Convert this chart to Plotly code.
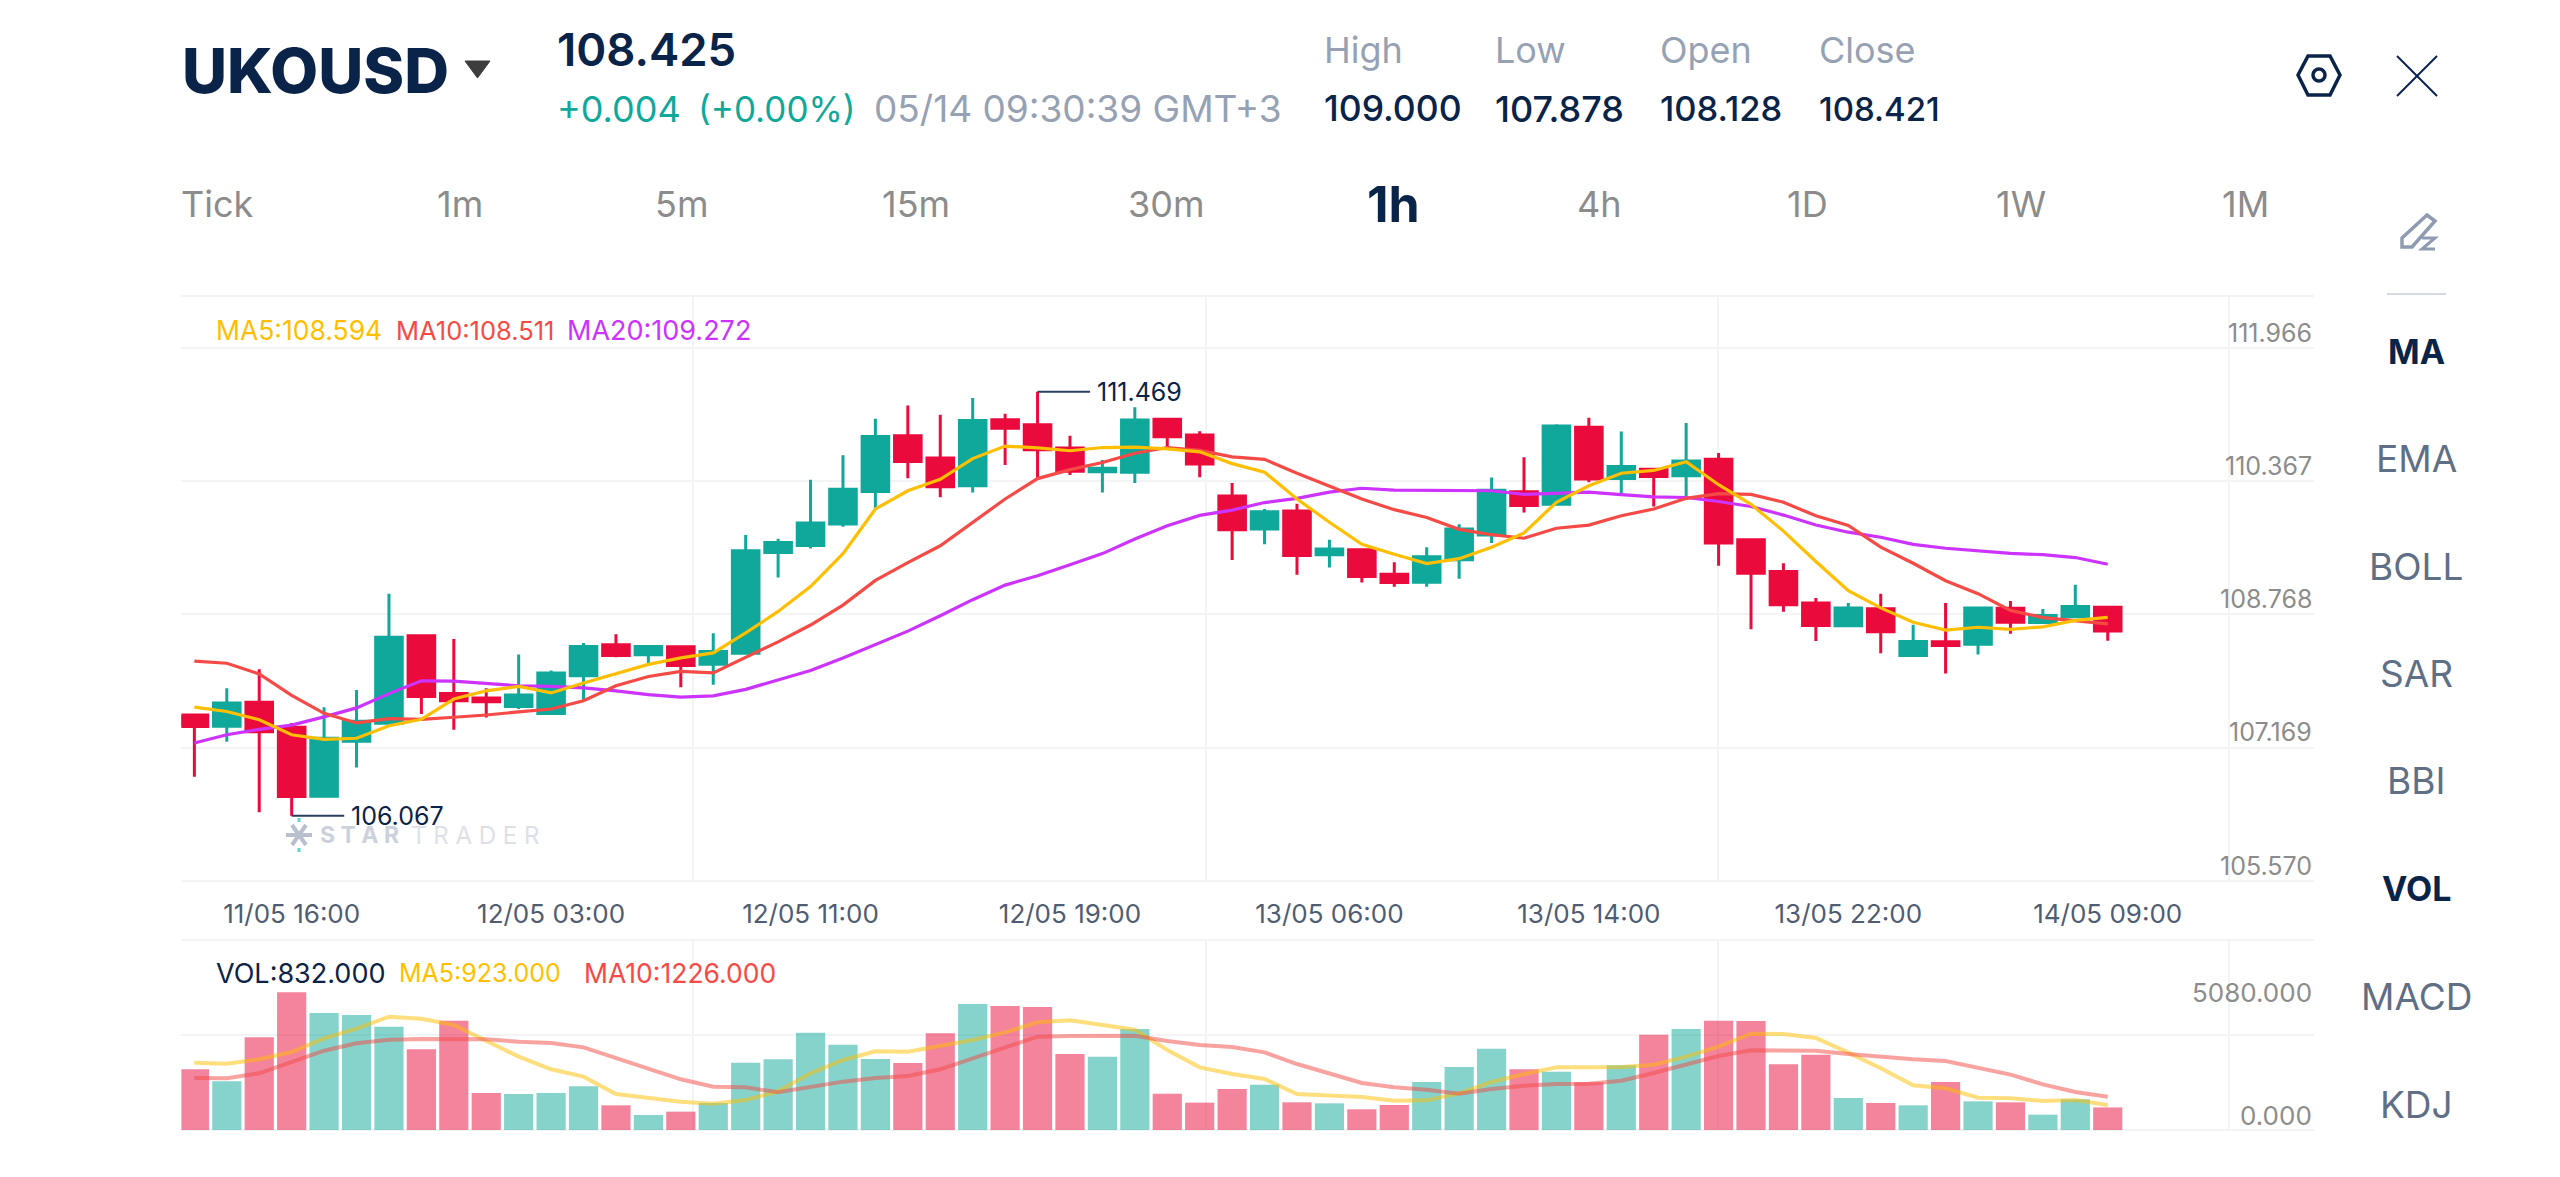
import plotly.graph_objects as go

# --- Hourly UKOUSD candles -------------------------------------------------
opens = [107.350,107.208,107.513,107.195,106.316,107.017,107.245,108.360,107.623,107.568,
         107.459,107.368,107.850,108.246,108.119,108.219,107.996,108.137,109.420,109.512,
         109.785,110.199,110.909,110.627,110.272,111.114,111.050,110.754,110.449,110.445,
         111.118,110.918,110.140,109.721,109.949,109.393,109.457,109.143,109.043,109.330,
         109.644,110.194,110.035,111.018,110.363,110.481,110.399,110.609,109.584,109.179,
         108.779,108.487,108.706,108.110,108.283,108.251,108.710,108.528,108.601,108.724]
highs = [107.350,107.691,107.932,107.249,107.450,107.668,108.897,108.360,108.319,107.691,
         108.123,107.918,108.269,108.378,108.237,108.223,108.392,109.644,109.598,110.349,
         110.659,111.127,111.296,111.178,111.391,111.191,111.469,110.909,110.599,111.273,
         111.118,110.968,110.308,109.976,110.044,109.584,109.466,109.298,109.489,109.780,
         110.376,110.636,111.055,111.137,110.964,110.495,111.073,110.690,109.589,109.284,
         108.842,108.779,108.897,108.501,108.779,108.724,108.802,108.701,109.011,108.724]
lows = [106.562,107.008,106.111,106.067,106.316,106.680,107.245,107.363,107.163,107.318,
        107.427,107.363,107.545,108.087,107.996,107.705,107.736,108.128,109.102,109.471,
        109.748,109.980,110.367,110.126,110.185,110.536,110.363,110.408,110.185,110.308,
        110.741,110.381,109.325,109.525,109.138,109.229,109.038,108.984,108.984,109.088,
        109.543,109.930,110.035,110.317,110.172,110.008,110.126,109.252,108.442,108.665,
        108.292,108.469,108.137,108.091,107.878,108.123,108.387,108.528,108.583,108.296]
closes = [107.204,107.504,107.136,106.312,107.054,107.272,108.342,107.586,107.532,107.518,
          107.604,107.887,108.223,108.110,108.223,107.982,108.160,109.443,109.548,109.798,
          110.226,110.900,110.581,110.258,111.105,111.005,110.731,110.458,110.495,111.109,
          110.895,110.549,109.712,109.939,109.384,109.466,109.116,109.038,109.366,109.721,
          110.213,110.021,111.032,110.358,110.517,110.390,110.586,109.543,109.157,108.756,
          108.492,108.715,108.410,108.287,108.237,108.715,108.533,108.619,108.733,108.421]

ma5 = [107.450,107.395,107.290,107.099,107.040,107.054,107.213,107.295,107.554,107.659,
       107.714,107.632,107.759,107.873,107.996,108.078,108.142,108.396,108.670,108.988,
       109.407,109.976,110.208,110.354,110.618,110.777,110.754,110.718,110.759,110.763,
       110.741,110.704,110.554,110.445,110.103,109.807,109.525,109.398,109.279,109.343,
       109.489,109.671,110.062,110.272,110.431,110.467,110.577,110.285,110.035,109.694,
       109.307,108.934,108.715,108.533,108.433,108.469,108.442,108.474,108.556,108.594]
ma10 = [108.037,108.010,107.873,107.600,107.372,107.249,107.304,107.295,107.322,107.350,
        107.390,107.427,107.532,107.723,107.841,107.905,107.887,108.087,108.283,108.497,
        108.751,109.066,109.293,109.507,109.807,110.103,110.363,110.477,110.568,110.686,
        110.759,110.722,110.640,110.609,110.431,110.267,110.103,109.967,109.867,109.716,
        109.648,109.603,109.730,109.771,109.889,109.976,110.112,110.172,110.162,110.062,
        109.889,109.766,109.489,109.284,109.061,108.897,108.683,108.592,108.556,108.511]
ma20 = [106.994,107.099,107.167,107.222,107.327,107.441,107.623,107.786,107.782,107.750,
        107.723,107.714,107.695,107.659,107.609,107.577,107.595,107.677,107.796,107.918,
        108.078,108.251,108.419,108.615,108.820,109.006,109.125,109.266,109.407,109.594,
        109.762,109.894,109.962,110.058,110.112,110.190,110.240,110.217,110.213,110.208,
        110.208,110.162,110.181,110.190,110.158,110.131,110.122,110.071,110.008,109.898,
        109.771,109.680,109.616,109.525,109.475,109.439,109.411,109.393,109.357,109.272]

volumes = [2239,1796,3419,5080,4317,4244,3813,2977,4034,1365,
           1328,1365,1611,910,554,677,996,2485,2608,3592,
           3149,2620,2472,3567,4649,4576,4539,2804,2706,3727,
           1341,1009,1513,1673,1021,984,763,923,1771,2325,
           3001,2239,2153,1759,2386,3518,3727,4034,4022,2423,
           2780,1181,996,910,1771,1058,1021,566,1132,832]
vol_ma5 = [2485,2448,2608,2878,3383,3739,4182,4108,3875,3272,
           2706,2239,1968,1328,1181,1046,972,1107,1427,2091,
           2583,2903,2891,3100,3321,3604,3973,4047,3875,3702,
           2952,2312,2066,1882,1328,1267,1218,1082,1095,1353,
           1771,2066,2312,2312,2325,2411,2706,3075,3555,3542,
           3395,2854,2276,1648,1538,1193,1169,1070,1107,923]
vol_ma10 = [1919,1907,2091,2522,2927,3198,3333,3358,3370,3346,
            3260,3210,3050,2645,2239,1870,1599,1574,1390,1599,
            1784,1919,1993,2239,2645,3075,3444,3469,3481,3481,
            3284,3137,3063,2866,2435,2066,1734,1574,1488,1341,
            1513,1636,1697,1710,1820,2103,2435,2731,2940,2940,
            2927,2804,2694,2608,2546,2300,2042,1685,1402,1226]

bar_index = list(range(len(closes)))
time_ticks = [3, 11, 19, 27, 35, 43, 51, 59]
time_labels = ["11/05 16:00", "12/05 03:00", "12/05 11:00", "12/05 19:00",
               "13/05 06:00", "13/05 14:00", "13/05 22:00", "14/05 09:00"]
price_labels = ["111.966", "110.367", "108.768", "107.169", "105.570"]
price_grid = [112.027, 110.327, 108.633, 106.931, 105.235]
vol_labels = [(5080, "5080.000", 0), (0, "0.000", 15)]
timeframes = ["Tick", "1m", "5m", "15m", "30m", "1h", "4h", "1D", "1W", "1M"]
timeframe_x = [217, 460, 681, 916, 1166, 1393, 1599, 1807, 2021, 2245]
indicators = ["MA", "EMA", "BOLL", "SAR", "BBI", "VOL", "MACD", "KDJ"]
indicator_y = [351, 459, 566, 673, 780, 888, 996, 1104]
active_indicators = {"MA", "VOL"}

W, H = 2560, 1177
FONT = "Inter"
NAVY = "#0a2348"
UP, DOWN = "#0fa89b", "#ea0a3c"
YELLOW, RED, PURPLE = "#ffbf00", "#f54a45", "#cc33ff"
GRID = "#f3f4f5"
MUTED = "#96a2b4"
GREY = "#8c8c8c"
SLATE = "#5f6f85"
PANE_LEFT, PANE_RIGHT = 181.4, 2314


def px(x):
    return x / W


def py(y):
    return 1 - y / H


annotations = []


def label(text, x, y, size, color, anchor="left", weight=400):
    annotations.append(dict(
        text=text, x=px(x), y=py(y), xref="paper", yref="paper",
        xanchor=anchor, yanchor="middle", showarrow=False,
        xshift=-3 if anchor == "left" else 0,
        font=dict(family=FONT, size=size, color=color, weight=weight)))


shapes = []


def ui_line(x0, y0, x1, y1, color, width=2, layer="above"):
    shapes.append(dict(type="line", xref="paper", yref="paper", x0=px(x0), y0=py(y0),
                       x1=px(x1), y1=py(y1), layer=layer, line=dict(color=color, width=width)))


def ui_path(points, color, width=3, fill=None, close=True):
    d = "M " + " L ".join(f"{px(a):.5f},{py(b):.5f}" for a, b in points) + (" Z" if close else "")
    shapes.append(dict(type="path", xref="paper", yref="paper", path=d,
                       line=dict(color=color, width=width),
                       fillcolor=fill if fill else "rgba(0,0,0,0)"))


fig = go.Figure()

fig.add_trace(go.Candlestick(
    x=bar_index, open=opens, high=highs, low=lows, close=closes, whiskerwidth=0,
    increasing=dict(line=dict(color=UP, width=3), fillcolor=UP),
    decreasing=dict(line=dict(color=DOWN, width=3), fillcolor=DOWN),
    hoverinfo="skip", showlegend=False))
# MA5 is drawn last so it sits on top of the other averages
for series, color in ((ma20, PURPLE), (ma10, RED), (ma5, YELLOW)):
    fig.add_trace(go.Scatter(x=bar_index, y=series, mode="lines", hoverinfo="skip",
                             line=dict(color=color, width=3.2), showlegend=False))

fig.add_trace(go.Bar(
    x=bar_index, y=volumes, xaxis="x2", yaxis="y2", width=0.9, opacity=0.5,
    marker=dict(color=[UP if c >= o else DOWN for o, c in zip(opens, closes)], line=dict(width=0)),
    hoverinfo="skip", showlegend=False))
for series, color in ((vol_ma5, YELLOW), (vol_ma10, RED)):
    fig.add_trace(go.Scatter(x=bar_index, y=series, xaxis="x2", yaxis="y2", mode="lines",
                             opacity=0.5, hoverinfo="skip",
                             line=dict(color=color, width=4), showlegend=False))

# Highest and lowest price markers
high_i, low_i = highs.index(max(highs)), lows.index(min(lows))
for i, value, in ((high_i, highs[high_i]), (low_i, lows[low_i])):
    shapes.append(dict(type="line", xref="x", yref="y", x0=i, x1=i + 1.62, y0=value, y1=value,
                       line=dict(color="#2a3f5f", width=2)))
    annotations.append(dict(text=f"{value:.3f}", x=i + 1.86, y=value, xref="x", yref="y",
                            xanchor="left", yanchor="middle", showarrow=False, xshift=-3,
                            font=dict(family=FONT, size=25, color=NAVY)))

# Pane borders sit on the axis range edges, where the axis grid is not drawn
for edge in (296, 881, 940, 1130):
    ui_line(PANE_LEFT, edge, PANE_RIGHT, edge, GRID, 2, layer="below")

# Axis labels are right aligned at the pane edge and float above their grid lines
for text, level in zip(price_labels, price_grid):
    annotations.append(dict(text=text, x=px(PANE_RIGHT), y=level, xref="paper", yref="y",
                            xanchor="right", yanchor="middle", yshift=15.5, showarrow=False,
                            font=dict(family=FONT, size=25, color=GREY)))
for value, text, shift in vol_labels:
    annotations.append(dict(text=text, x=px(PANE_RIGHT), y=value, xref="paper", yref="y2",
                            xanchor="right", yanchor="middle", yshift=shift, showarrow=False,
                            font=dict(family=FONT, size=26, color=GREY)))

# Indicator readouts
label(f"MA5:{ma5[-1]:.3f}", 217, 330, 26.5, YELLOW)
label(f"MA10:{ma10[-1]:.3f}", 397, 330, 25.5, RED)
label(f"MA20:{ma20[-1]:.3f}", 568, 330, 27, PURPLE)
label(f"VOL:{volumes[-1]:.3f}", 217, 973, 27, NAVY)
label(f"MA5:{vol_ma5[-1]:.3f}", 400, 973, 25, YELLOW)
label(f"MA10:{vol_ma10[-1]:.3f}", 585, 973, 26.5, RED)

# Header
label("UKOUSD", 183, 70, 62, NAVY, weight=800)
ui_path([(465, 61), (490, 61), (477.5, 78)], "#3d3d3d", 1, "#3d3d3d")
label("108.425", 558, 50, 45.5, NAVY, weight=600)
label("+0.004", 558, 109, 36, UP)
label("(+0.00%)", 699, 109, 35, UP)
label("05/14 09:30:39 GMT+3", 875, 109, 37, MUTED)
for name, value, x, size in (("High", "109.000", 1325, 35.5), ("Low", "107.878", 1496, 36),
                             ("Open", "108.128", 1661, 34.5), ("Close", "108.421", 1820, 33)):
    label(name, x, 50, 36, MUTED)
    label(value, x, 109, size, NAVY, weight=500)

for text, x in zip(timeframes, timeframe_x):
    active = text == "1h"
    label(text, x, 204, 50 if active else 36, NAVY if active else GREY, "center", 700 if active else 400)

for text, y in zip(indicators, indicator_y):
    active = text in active_indicators
    label(text, 2416, y, 34 if active else 37, NAVY if active else SLATE, "center", 700 if active else 400)
ui_line(2387, 294, 2446, 294, "#d5dae2", 2)

# Settings hexagon and close cross
ui_path([(2298, 75), (2308, 56), (2330, 56), (2340, 75), (2330, 95), (2308, 95)], NAVY, 3.5)
shapes.append(dict(type="circle", xref="paper", yref="paper", x0=px(2313), x1=px(2325),
                   y0=py(69), y1=py(81), line=dict(color=NAVY, width=3.5)))
ui_line(2397, 56, 2437, 96, NAVY, 2)
ui_line(2437, 56, 2397, 96, NAVY, 2)

# Drawing tool pencil
ui_path([(2427, 215), (2435, 221), (2412, 247), (2402, 247), (2402, 238)], "#8e9bb0", 3.5)
ui_path([(2422, 238), (2435, 238), (2422, 249), (2435, 249)], "#8e9bb0", 3, close=False)

# Watermark
for dx0, dy0, dx1, dy1 in ((-13, 0, 13, 0), (-7, -10, 7, 10), (-7, 10, 7, -10)):
    ui_line(299 + dx0, 835 + dy0, 299 + dx1, 835 + dy1, "#b8c0cd", 4)
ui_line(299, 818, 299, 822, "#5fd5d5", 3)
ui_line(299, 848, 299, 852, "#5fd5d5", 3)
label("S T A R", 321, 835, 23, "#ccd2db", weight=700)
label("T R A D E R", 412, 835, 24, "#dde1e7")

fig.update_layout(
    width=W, height=H, autosize=False, margin=dict(l=0, r=0, t=0, b=0),
    paper_bgcolor="white", plot_bgcolor="white", boxgap=0.18, boxgroupgap=0, dragmode=False,
    xaxis=dict(domain=[px(PANE_LEFT), px(PANE_RIGHT)], range=[-0.4, 65.36], anchor="y",
               rangeslider=dict(visible=False), showline=False, zeroline=False, showgrid=False,
               tickmode="array", tickvals=time_ticks, ticktext=time_labels, ticks="",
               ticklabelstandoff=15,
               tickfont=dict(family=FONT, size=26, color="#4f5d73"),
               minor=dict(tickmode="array", tickvals=[15.39, 31.18, 46.97, 62.75],
                          showgrid=True, gridcolor=GRID, gridwidth=2, ticks="")),
    yaxis=dict(domain=[py(881), py(296)], range=[105.235, 112.69], anchor="x", side="right",
               showline=False, zeroline=False, showticklabels=False, ticks="",
               tickmode="array", tickvals=price_grid[:-1], showgrid=True,
               gridcolor=GRID, gridwidth=2),
    xaxis2=dict(domain=[px(PANE_LEFT), px(PANE_RIGHT)], range=[-0.4, 65.36], anchor="y2",
                showline=False, zeroline=False, showgrid=False, showticklabels=False, ticks="",
                minor=dict(tickmode="array", tickvals=[15.39, 31.18, 46.97, 62.75],
                           showgrid=True, gridcolor=GRID, gridwidth=2, ticks="")),
    yaxis2=dict(domain=[py(1130), py(940)], range=[0, 7011], anchor="x2", side="right",
                showline=False, zeroline=False, showticklabels=False, ticks="",
                tickmode="array", tickvals=[3506], showgrid=True,
                gridcolor=GRID, gridwidth=2),
    annotations=annotations, shapes=shapes, hovermode=False,
)

fig.write_html("out.html", config=dict(displayModeBar=False))
